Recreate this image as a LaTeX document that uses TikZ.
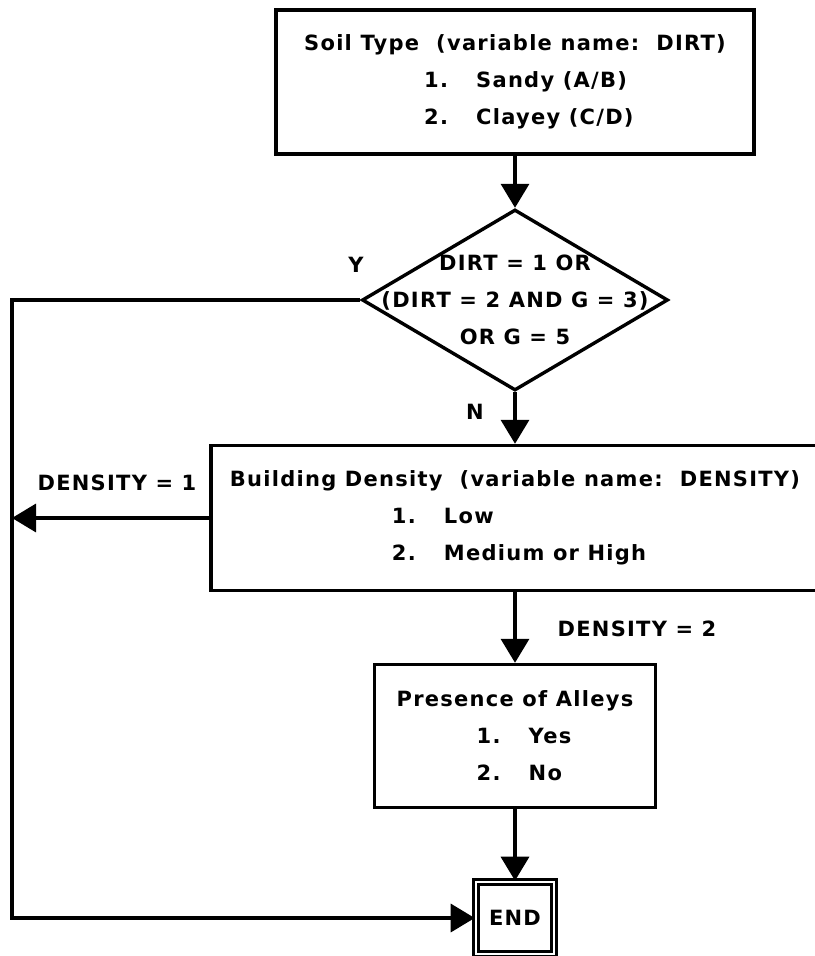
\documentclass[tikz,border=0pt]{standalone}
\usepackage{fontspec}
\setmainfont{DejaVu Sans}[LetterSpace=6]
\usetikzlibrary{arrows.meta,shapes.geometric,positioning}

% one numbered answer inside a question box
\newcommand{\optline}[3]{\hspace*{#1}\makebox[26pt][l]{#2}#3}

\begin{document}
\begin{tikzpicture}[x=0.5pt, y=-0.5pt, ->, >={Triangle[width=14pt,length=12pt]},
                line width=1.7pt, node distance=109pt,
                every node/.style={font=\fontsize{10.5}{18.5}\selectfont\bfseries},
                box/.style={rectangle,draw,align=left},
                decision/.style={diamond,draw,minimum width=153pt,minimum height=90.5pt,inner sep=0pt}]

      \useasboundingbox (0,0) rectangle (814,956);

      \node[box, minimum width=239pt, minimum height=72pt] (soil) at (515,82)
            {Soil Type~~(variable name:~~DIRT)\\
             \optline{60pt}{1.}{Sandy (A/B)}\\
             \optline{60pt}{2.}{Clayey (C/D)}};
      \node[decision] (test) [below of=soil] {};
      \node[align=center] (cond) at (test) {DIRT = 1 OR\\(DIRT = 2 AND G = 3)\\OR G = 5};
      \node[box, minimum width=304pt, minimum height=72.5pt] (dens) [below of=test]
            {Building Density~~(variable name:~~DENSITY)\\
             \optline{81pt}{1.}{Low}\\
             \optline{81pt}{2.}{Medium or High}};
      \node[box, minimum width=140.5pt, minimum height=71.5pt] (alley) [below of=dens]
            {Presence of Alleys\\
             \optline{40pt}{1.}{Yes}\\
             \optline{40pt}{2.}{No}};
      \node[draw, double, double distance=1.2pt, line width=1.3pt, minimum width=39pt, minimum height=36pt]
            (end) [below of=alley, node distance=91pt] {END};

      \coordinate (rail) at (12,519);

      \node (yes) at (356,265) {Y};
      \node (no) at (475,412) {N};
      \node (low) at (117,483) {DENSITY = 1};
      \node (high) at (637,629) {DENSITY = 2};

      \draw (soil) -- (test);
      \draw (test) -- (dens);
      \draw (dens) -- (alley);
      \draw (alley) -- (end);
      \draw (dens.west) -- (dens.west -| rail);
      \draw (test.west) -- (test.west -| rail) |- (end.west);
  \end{tikzpicture}
\end{document}
